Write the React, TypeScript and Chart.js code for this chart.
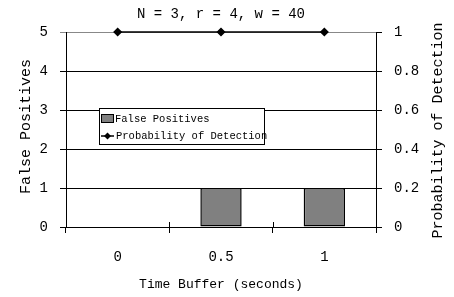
import React, { useEffect, useRef } from "react";
import { Chart, registerables } from "chart.js";

Chart.register(...registerables);

const categories = ["0", "0.5", "1"];
const falsePositives = [0, 1, 1];
const detectionProbability = [1, 1, 1];
const leftTicks = ["0", "1", "2", "3", "4", "5"];
const rightTicks = ["0", "0.2", "0.4", "0.6", "0.8", "1"];

const chartTitle = "N = 3, r = 4, w = 40";
const xTitle = "Time Buffer (seconds)";
const leftTitle = "False Positives";
const rightTitle = "Probability of Detection";
const FONT = "'Liberation Mono', 'DejaVu Sans Mono', monospace";

const decorPlugin = {
  id: "decor",
  afterDraw(chart: any) {
    const ctx = chart.ctx;
    const ca = chart.chartArea;
    const cx = (ca.left + ca.right) / 2;
    const cy = (ca.top + ca.bottom) / 2;
    ctx.save();
    ctx.fillStyle = "#000";
    ctx.textAlign = "center";
    ctx.textBaseline = "middle";
    // title
    ctx.font = `14px ${FONT}`;
    ctx.fillText(chartTitle, cx, 14);
    // x title
    ctx.font = `13px ${FONT}`;
    ctx.fillText(xTitle, cx, 285);
    // left title
    ctx.font = `15px ${FONT}`;
    ctx.save();
    ctx.translate(26, cy - 3);
    ctx.rotate(-Math.PI / 2);
    ctx.fillText(leftTitle, 0, 0);
    ctx.restore();
    // right title
    ctx.save();
    ctx.translate(438, cy + 1);
    ctx.rotate(-Math.PI / 2);
    ctx.fillText(rightTitle, 0, 0);
    ctx.restore();

    // x-axis inner tick marks at category boundaries
    const xs = chart.scales.x;
    const n = categories.length;
    ctx.strokeStyle = "#000";
    ctx.lineWidth = 1;
    for (let i = 0; i <= n; i++) {
      const px = Math.round(xs.left + ((xs.right - xs.left) * i) / n) + 0.5;
      ctx.beginPath();
      ctx.moveTo(px, ca.bottom - 5);
      ctx.lineTo(px, ca.bottom);
      ctx.stroke();
    }

    // legend
    const lx = 99.5, ly = 108.5, lw = 165, lh = 36;
    ctx.fillStyle = "#fff";
    ctx.fillRect(lx, ly, lw, lh);
    ctx.strokeStyle = "#000";
    ctx.strokeRect(lx, ly, lw, lh);
    ctx.fillStyle = "#808080";
    ctx.fillRect(101.5, 114.5, 12, 8);
    ctx.strokeRect(101.5, 114.5, 12, 8);
    ctx.beginPath();
    ctx.lineWidth = 1.5;
    ctx.moveTo(101, 136);
    ctx.lineTo(114, 136);
    ctx.stroke();
    ctx.fillStyle = "#000";
    ctx.beginPath();
    ctx.moveTo(107.5, 132.5);
    ctx.lineTo(111, 136);
    ctx.lineTo(107.5, 139.5);
    ctx.lineTo(104, 136);
    ctx.closePath();
    ctx.fill();
    ctx.textAlign = "left";
    ctx.font = `10.5px ${FONT}`;
    ctx.fillText("False Positives", 115, 119);
    ctx.fillText("Probability of Detection", 116, 136.5);
    ctx.restore();
  },
};

export default function App() {
  const ref = useRef<HTMLCanvasElement>(null);
  useEffect(() => {
    if (!ref.current) return;
    const chart = new Chart(ref.current, {
      type: "bar",
      data: {
        labels: categories,
        datasets: [
          {
            type: "line",
            label: rightTitle,
            data: detectionProbability,
            yAxisID: "y1",
            borderColor: "#000",
            backgroundColor: "#000",
            borderWidth: 1.5,
            pointStyle: "rectRot",
            pointRadius: 3.5,
            pointBackgroundColor: "#000",
            pointBorderColor: "#000",
            order: 0,
            clip: false,
          } as any,
          {
            type: "bar",
            label: leftTitle,
            data: falsePositives,
            yAxisID: "y",
            backgroundColor: "#808080",
            borderColor: "#000",
            borderWidth: 1.5,
            borderSkipped: false,
            barPercentage: 0.4,
            categoryPercentage: 1,
            order: 1,
          },
        ],
      },
      options: {
        animation: false,
        responsive: false,
        devicePixelRatio: 1,
        layout: { padding: { top: 32, left: 0, right: 0, bottom: 0 } },
        plugins: {
          legend: { display: false },
          title: { display: false },
          tooltip: { enabled: false },
        },
        scales: {
          x: {
            offset: true,
            grid: {
              offset: true,
              drawOnChartArea: false,
              tickLength: 6,
              color: "#000",
            },
            border: { color: "#000" },
            ticks: {
              color: "#000",
              font: { family: FONT, size: 14 },
              padding: 16,
              maxRotation: 0,
            },
            afterFit(s: any) {
              s.height = 70;
            },
          },
          y: {
            position: "left",
            min: 0,
            max: 5,
            grid: {
              color: (c: any) => (c.tick && c.tick.value === 5 ? "#888" : "#000"),
              tickLength: 6,
            },
            border: { color: "#000" },
            ticks: {
              stepSize: 1,
              color: "#000",
              font: { family: FONT, size: 14 },
              padding: 12,
              callback: (_v: any, i: number) => leftTicks[i],
            },
            afterFit(s: any) {
              s.width = 66;
            },
          },
          y1: {
            position: "right",
            min: 0,
            max: 1,
            grid: { drawOnChartArea: false, tickLength: 6, color: "#000" },
            border: { color: "#000" },
            ticks: {
              stepSize: 0.2,
              color: "#000",
              font: { family: FONT, size: 14 },
              padding: 12,
              callback: (_v: any, i: number) => rightTicks[i],
            },
            afterFit(s: any) {
              s.width = 78;
            },
          },
        },
      } as any,
      plugins: [decorPlugin],
    });
    return () => chart.destroy();
  }, []);
  return (
    <div style={{ position: "absolute", left: 0, top: 0, width: 454, height: 297, background: "#fff" }}>
      <canvas ref={ref} width={454} height={297} />
    </div>
  );
}
